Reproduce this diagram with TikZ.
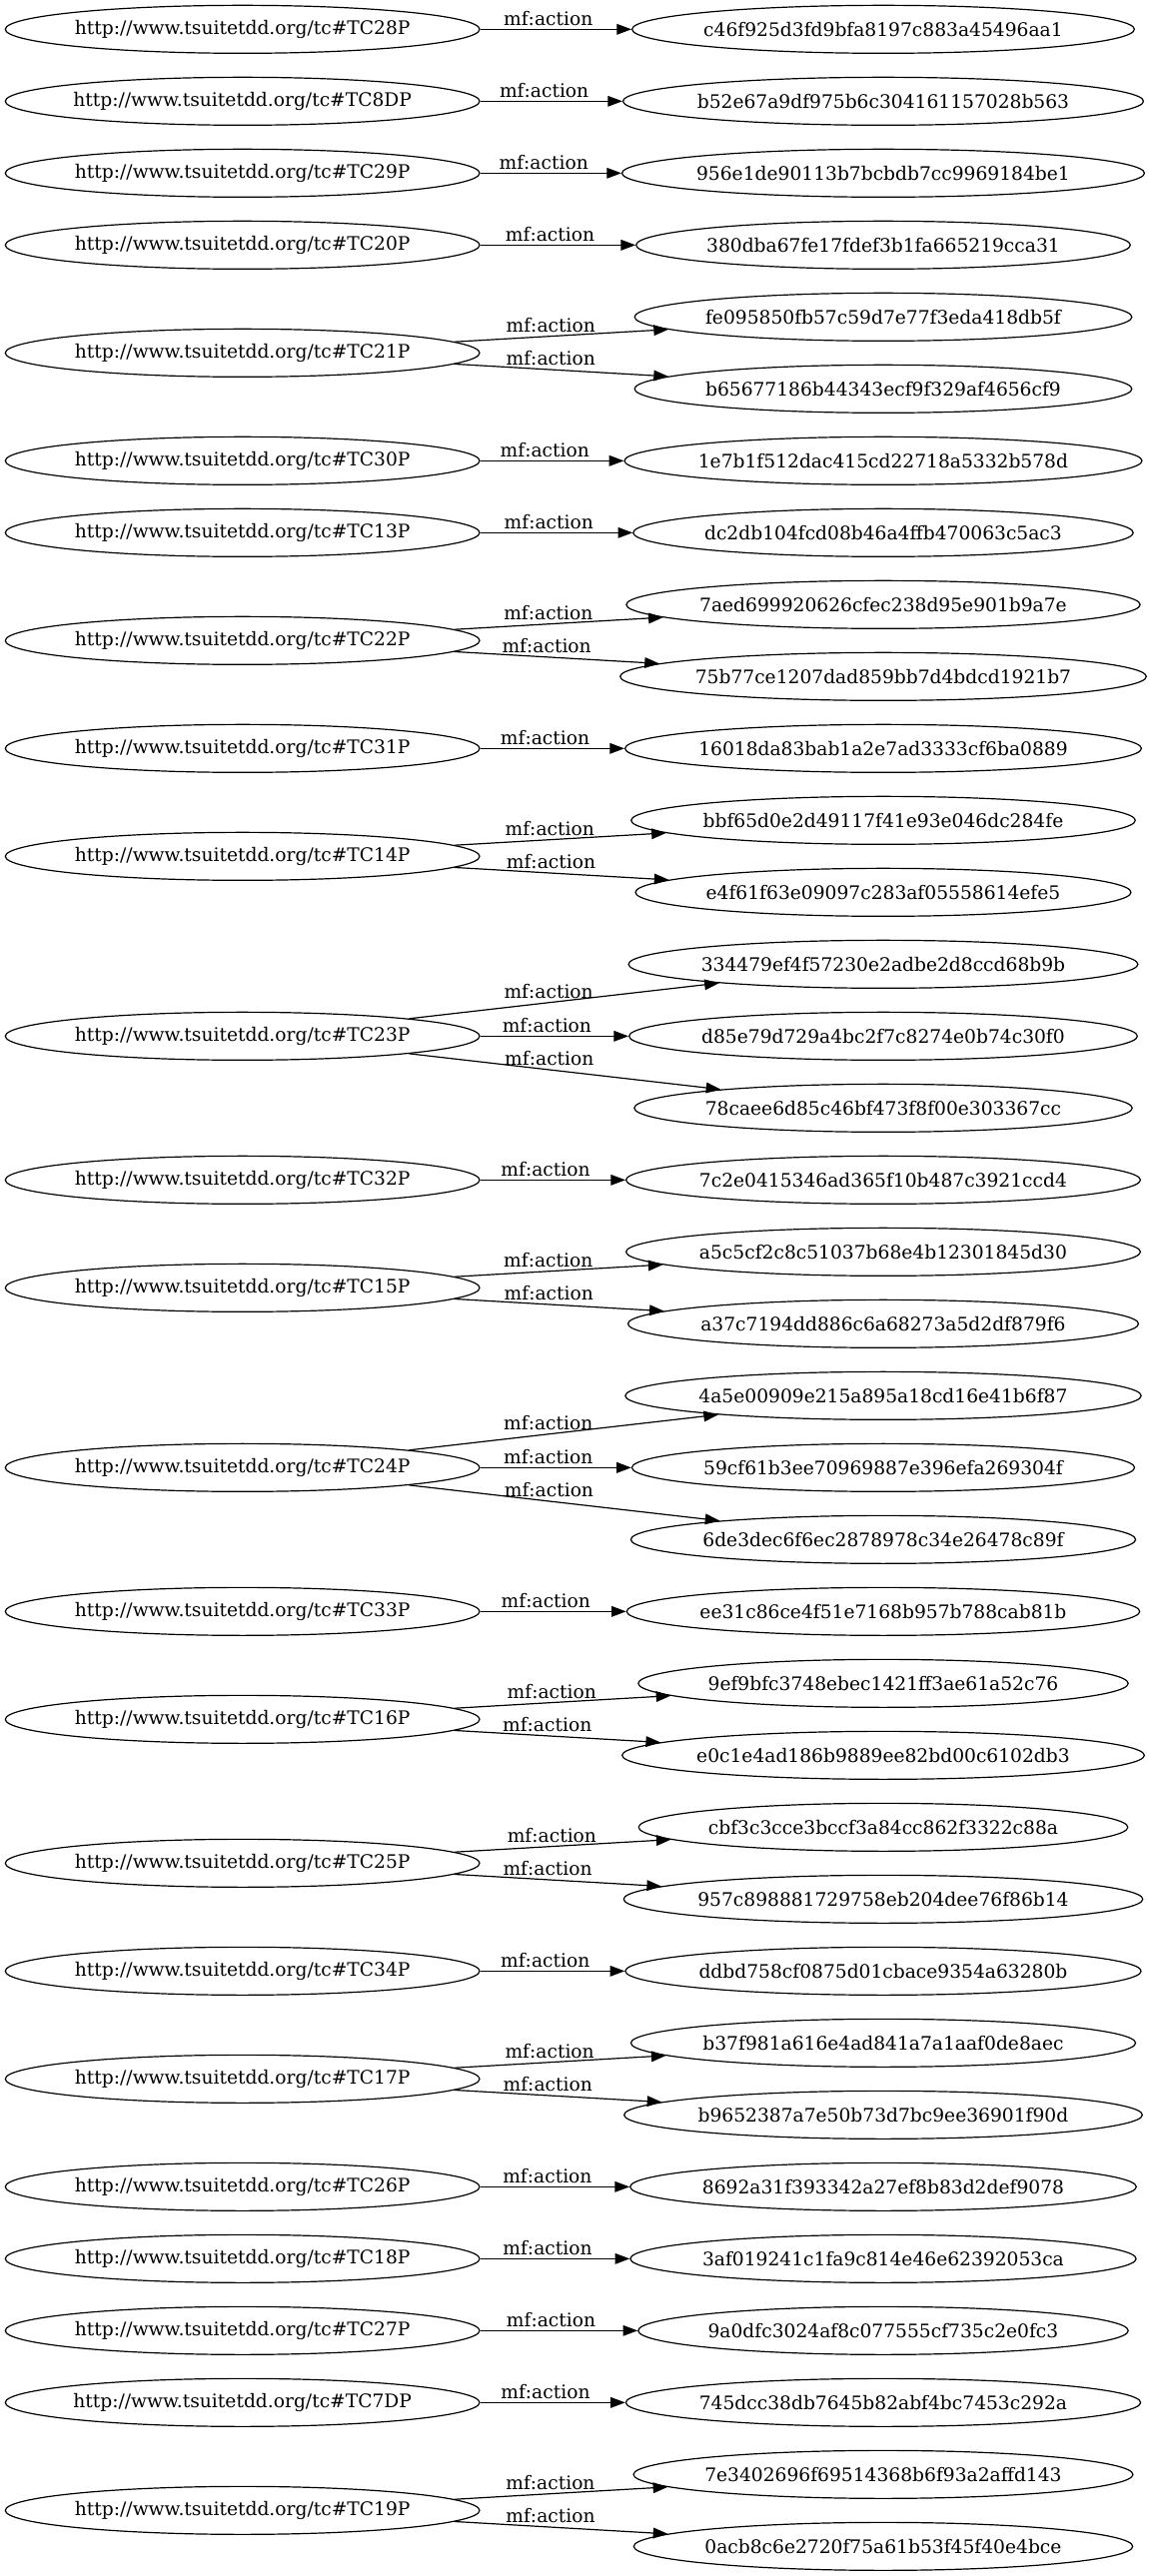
\documentclass[tikz,border=0pt]{standalone}
\usepackage{fontspec}
\setmainfont{DejaVu Serif}
\usetikzlibrary{shapes.geometric,arrows.meta}
\begin{document}
\begin{tikzpicture}[x=1pt,y=-1pt,
  base/.style={draw, ellipse, line width=0.9pt, minimum height=36pt,
    inner ysep=0pt, inner xsep=-1.5pt, font=\fontsize{14pt}{16pt}\selectfont},
  src/.style={base, minimum width=356pt},
  tgt/.style={base},
  edge/.style={line width=0.9pt, -{Triangle[length=11pt,width=8pt]}},
  lbl/.style={pos=0.45, above=1.5pt, inner sep=1pt, font=\fontsize{14pt}{16pt}\selectfont}]
\useasboundingbox (0,0) rectangle (861.75,1934.25);

% subjects
\node[src] (tc28) at (182,22)   {http://www.tsuitetdd.org/tc\#TC28P};
\node[src] (tc8d) at (182,76)   {http://www.tsuitetdd.org/tc\#TC8DP};
\node[src] (tc29) at (182,130)  {http://www.tsuitetdd.org/tc\#TC29P};
\node[src] (tc20) at (182,184)  {http://www.tsuitetdd.org/tc\#TC20P};
\node[src] (tc21) at (182,265)  {http://www.tsuitetdd.org/tc\#TC21P};
\node[src] (tc30) at (182,346)  {http://www.tsuitetdd.org/tc\#TC30P};
\node[src] (tc13) at (182,400)  {http://www.tsuitetdd.org/tc\#TC13P};
\node[src] (tc22) at (182,481)  {http://www.tsuitetdd.org/tc\#TC22P};
\node[src] (tc31) at (182,562)  {http://www.tsuitetdd.org/tc\#TC31P};
\node[src] (tc14) at (182,643)  {http://www.tsuitetdd.org/tc\#TC14P};
\node[src] (tc23) at (182,778)  {http://www.tsuitetdd.org/tc\#TC23P};
\node[src] (tc32) at (182,886)  {http://www.tsuitetdd.org/tc\#TC32P};
\node[src] (tc15) at (182,967)  {http://www.tsuitetdd.org/tc\#TC15P};
\node[src] (tc24) at (182,1102) {http://www.tsuitetdd.org/tc\#TC24P};
\node[src] (tc33) at (182,1210) {http://www.tsuitetdd.org/tc\#TC33P};
\node[src] (tc16) at (182,1291) {http://www.tsuitetdd.org/tc\#TC16P};
\node[src] (tc25) at (182,1399) {http://www.tsuitetdd.org/tc\#TC25P};
\node[src] (tc34) at (182,1480) {http://www.tsuitetdd.org/tc\#TC34P};
\node[src] (tc17) at (182,1561) {http://www.tsuitetdd.org/tc\#TC17P};
\node[src] (tc26) at (182,1642) {http://www.tsuitetdd.org/tc\#TC26P};
\node[src] (tc18) at (182,1696) {http://www.tsuitetdd.org/tc\#TC18P};
\node[src] (tc27) at (182,1750) {http://www.tsuitetdd.org/tc\#TC27P};
\node[src] (tc7d) at (182,1804) {http://www.tsuitetdd.org/tc\#TC7DP};
\node[src] (tc19) at (182,1885) {http://www.tsuitetdd.org/tc\#TC19P};

% objects
\node[tgt] (h0)  at (663,22)   {c46f925d3fd9bfa8197c883a45496aa1};
\node[tgt] (h1)  at (663,76)   {b52e67a9df975b6c304161157028b563};
\node[tgt] (h2)  at (663,130)  {956e1de90113b7bcbdb7cc9969184be1};
\node[tgt] (h3)  at (663,184)  {380dba67fe17fdef3b1fa665219cca31};
\node[tgt] (h4)  at (663,238)  {fe095850fb57c59d7e77f3eda418db5f};
\node[tgt] (h5)  at (663,292)  {b65677186b44343ecf9f329af4656cf9};
\node[tgt] (h6)  at (663,346)  {1e7b1f512dac415cd22718a5332b578d};
\node[tgt] (h7)  at (663,400)  {dc2db104fcd08b46a4ffb470063c5ac3};
\node[tgt] (h8)  at (663,454)  {7aed699920626cfec238d95e901b9a7e};
\node[tgt] (h9)  at (663,508)  {75b77ce1207dad859bb7d4bdcd1921b7};
\node[tgt] (h10) at (663,562)  {16018da83bab1a2e7ad3333cf6ba0889};
\node[tgt] (h11) at (663,616)  {bbf65d0e2d49117f41e93e046dc284fe};
\node[tgt] (h12) at (663,670)  {e4f61f63e09097c283af05558614efe5};
\node[tgt] (h13) at (663,724)  {334479ef4f57230e2adbe2d8ccd68b9b};
\node[tgt] (h14) at (663,778)  {d85e79d729a4bc2f7c8274e0b74c30f0};
\node[tgt] (h15) at (663,832)  {78caee6d85c46bf473f8f00e303367cc};
\node[tgt] (h16) at (663,886)  {7c2e0415346ad365f10b487c3921ccd4};
\node[tgt] (h17) at (663,940)  {a5c5cf2c8c51037b68e4b12301845d30};
\node[tgt] (h18) at (663,994)  {a37c7194dd886c6a68273a5d2df879f6};
\node[tgt] (h19) at (663,1048) {4a5e00909e215a895a18cd16e41b6f87};
\node[tgt] (h20) at (663,1102) {59cf61b3ee70969887e396efa269304f};
\node[tgt] (h21) at (663,1156) {6de3dec6f6ec2878978c34e26478c89f};
\node[tgt] (h22) at (663,1210) {ee31c86ce4f51e7168b957b788cab81b};
\node[tgt] (h23) at (663,1264) {9ef9bfc3748ebec1421ff3ae61a52c76};
\node[tgt] (h24) at (663,1318) {e0c1e4ad186b9889ee82bd00c6102db3};
\node[tgt] (h25) at (663,1372) {cbf3c3cce3bccf3a84cc862f3322c88a};
\node[tgt] (h26) at (663,1426) {957c898881729758eb204dee76f86b14};
\node[tgt] (h27) at (663,1480) {ddbd758cf0875d01cbace9354a63280b};
\node[tgt] (h28) at (663,1534) {b37f981a616e4ad841a7a1aaf0de8aec};
\node[tgt] (h29) at (663,1588) {b9652387a7e50b73d7bc9ee36901f90d};
\node[tgt] (h30) at (663,1642) {8692a31f393342a27ef8b83d2def9078};
\node[tgt] (h31) at (663,1696) {3af019241c1fa9c814e46e62392053ca};
\node[tgt] (h32) at (663,1750) {9a0dfc3024af8c077555cf735c2e0fc3};
\node[tgt] (h33) at (663,1804) {745dcc38db7645b82abf4bc7453c292a};
\node[tgt] (h34) at (663,1858) {7e3402696f69514368b6f93a2affd143};
\node[tgt] (h35) at (663,1912) {0acb8c6e2720f75a61b53f45f40e4bce};

% mf:action edges
\draw[edge] (tc28) -- node[lbl] {mf:action} (h0);
\draw[edge] (tc8d) -- node[lbl] {mf:action} (h1);
\draw[edge] (tc29) -- node[lbl] {mf:action} (h2);
\draw[edge] (tc20) -- node[lbl] {mf:action} (h3);
\draw[edge] (tc21.3)  -- node[lbl] {mf:action} (h4);
\draw[edge] (tc21.-3) -- node[lbl] {mf:action} (h5);
\draw[edge] (tc30) -- node[lbl] {mf:action} (h6);
\draw[edge] (tc13) -- node[lbl] {mf:action} (h7);
\draw[edge] (tc22.3)  -- node[lbl] {mf:action} (h8);
\draw[edge] (tc22.-3) -- node[lbl] {mf:action} (h9);
\draw[edge] (tc31) -- node[lbl] {mf:action} (h10);
\draw[edge] (tc14.3)  -- node[lbl] {mf:action} (h11);
\draw[edge] (tc14.-3) -- node[lbl] {mf:action} (h12);
\draw[edge] (tc23.6.5)  -- node[lbl] {mf:action} (h13);
\draw[edge] (tc23)      -- node[lbl] {mf:action} (h14);
\draw[edge] (tc23.-6.5) -- node[lbl] {mf:action} (h15);
\draw[edge] (tc32) -- node[lbl] {mf:action} (h16);
\draw[edge] (tc15.3)  -- node[lbl] {mf:action} (h17);
\draw[edge] (tc15.-3) -- node[lbl] {mf:action} (h18);
\draw[edge] (tc24.6.5)  -- node[lbl] {mf:action} (h19);
\draw[edge] (tc24)      -- node[lbl] {mf:action} (h20);
\draw[edge] (tc24.-6.5) -- node[lbl] {mf:action} (h21);
\draw[edge] (tc33) -- node[lbl] {mf:action} (h22);
\draw[edge] (tc16.3)  -- node[lbl] {mf:action} (h23);
\draw[edge] (tc16.-3) -- node[lbl] {mf:action} (h24);
\draw[edge] (tc25.3)  -- node[lbl] {mf:action} (h25);
\draw[edge] (tc25.-3) -- node[lbl] {mf:action} (h26);
\draw[edge] (tc34) -- node[lbl] {mf:action} (h27);
\draw[edge] (tc17.3)  -- node[lbl] {mf:action} (h28);
\draw[edge] (tc17.-3) -- node[lbl] {mf:action} (h29);
\draw[edge] (tc26) -- node[lbl] {mf:action} (h30);
\draw[edge] (tc18) -- node[lbl] {mf:action} (h31);
\draw[edge] (tc27) -- node[lbl] {mf:action} (h32);
\draw[edge] (tc7d) -- node[lbl] {mf:action} (h33);
\draw[edge] (tc19.3)  -- node[lbl] {mf:action} (h34);
\draw[edge] (tc19.-3) -- node[lbl] {mf:action} (h35);
\end{tikzpicture}
\end{document}
